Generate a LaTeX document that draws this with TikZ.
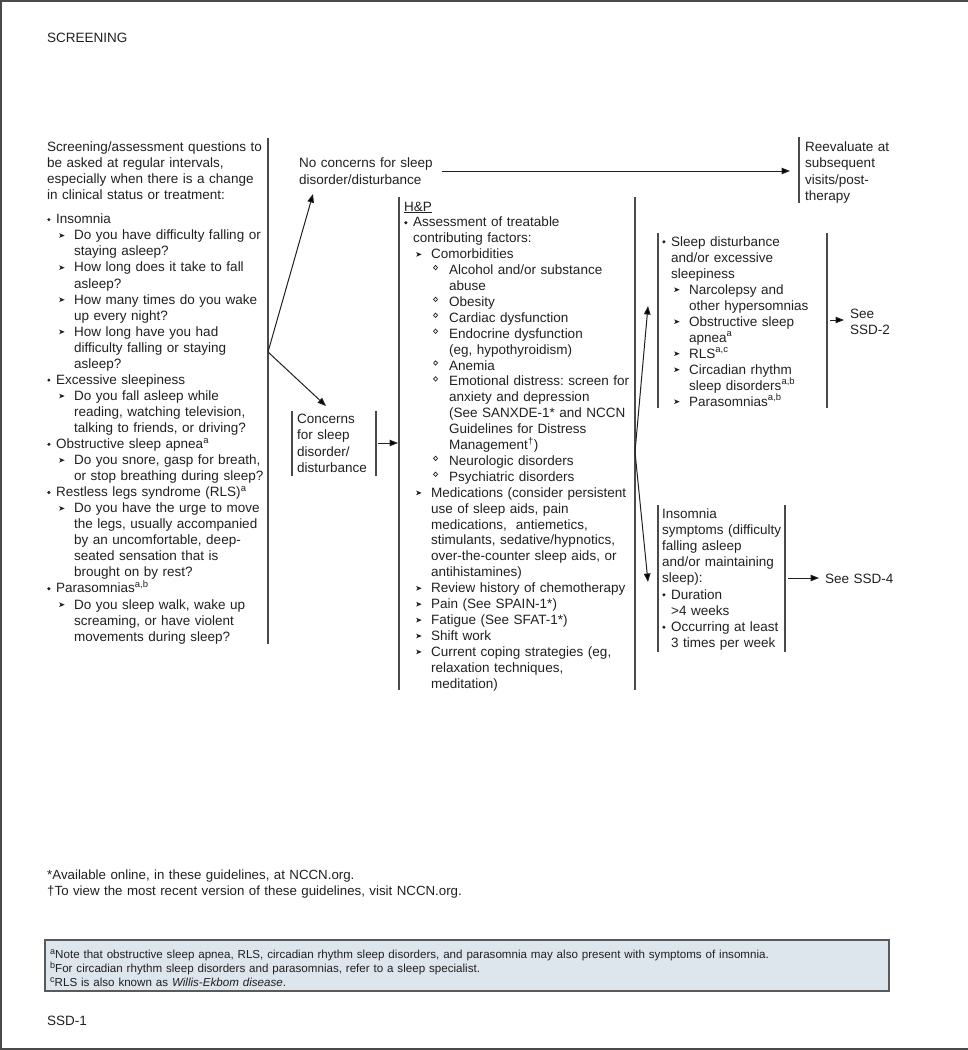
\documentclass[tikz,border=0pt]{standalone}
\usepackage{fontspec}
\setmainfont{Liberation Sans}
\usetikzlibrary{arrows.meta}
\definecolor{ink}{HTML}{231F20}
\definecolor{rulec}{HTML}{4A4A4A}
\definecolor{notefill}{HTML}{DCE6EC}
\definecolor{noteedge}{HTML}{5A5A5A}
\frenchspacing

\newcommand\bulmark{\tikz[baseline=0pt,x=1pt,y=1pt]\fill[ink] (1.7,4.2) circle (1.7);}
\newcommand\arrmark{\tikz[baseline=0pt,x=1pt,y=1pt]\fill[ink] (0,2)--(5.5,4.3)--(0,6.6)--(1.3,4.3)--cycle;}
\newcommand\diamark{\tikz[baseline=0pt,x=1pt,y=1pt]\draw[ink,line width=0.7pt] (0,7)--(2,9.2)--(4,7)--(2,4.8)--cycle;}
\newcommand\Lone[1]{\makebox[9pt][l]{\bulmark}#1}
\newcommand\Lonec[1]{\hspace*{9pt}#1}
\newcommand\Ltwo[1]{\hspace*{12pt}\makebox[15pt][l]{\arrmark}#1}
\newcommand\Ltwoc[1]{\hspace*{27pt}#1}
\newcommand\Lthree[1]{\hspace*{29pt}\makebox[16pt][l]{\diamark}#1}
\newcommand\Lthreec[1]{\hspace*{45pt}#1}
\newcommand\notesup[1]{\raisebox{3.2pt}{\fontsize{9}{9}\selectfont #1}}

\begin{document}
\begin{tikzpicture}[x=1pt,y=-1pt,
  txt/.style={anchor=base west, inner sep=0pt, text width=#1, align=left,
    font=\fontsize{13.5}{16.05}\selectfont, text=ink},
  vline/.style={draw=rulec, line width=1.1pt},
  arr/.style={draw=ink, line width=1pt, -{Triangle[length=8.5pt,width=6.5pt]}}]
\useasboundingbox (0,0) rectangle (968,1050);
% frame
\draw[rulec, line width=2pt] (968,1) -- (1,1) -- (1,1049) -- (968,1049);

\node[txt=200pt] (title) at (47,42) {SCREENING};

% left column
\node[txt=330pt] (lc) at (47,151) {Screening/assessment questions to\\
be asked at regular intervals,\\
especially when there is a change\\
in clinical status or treatment:\\[8.6pt]
\Lone{Insomnia}\\
\Ltwo{Do you have difficulty falling or}\\
\Ltwoc{staying asleep?}\\
\Ltwo{How long does it take to fall}\\
\Ltwoc{asleep?}\\
\Ltwo{How many times do you wake}\\
\Ltwoc{up every night?}\\
\Ltwo{How long have you had}\\
\Ltwoc{difficulty falling or staying}\\
\Ltwoc{asleep?}\\
\Lone{Excessive sleepiness}\\
\Ltwo{Do you fall asleep while}\\
\Ltwoc{reading, watching television,}\\
\Ltwoc{talking to friends, or driving?}\\
\Lone{Obstructive sleep apnea\textsuperscript{a}}\\
\Ltwo{Do you snore, gasp for breath,}\\
\Ltwoc{or stop breathing during sleep?}\\
\Lone{Restless legs syndrome (RLS)\textsuperscript{a}}\\
\Ltwo{Do you have the urge to move}\\
\Ltwoc{the legs, usually accompanied}\\
\Ltwoc{by an uncomfortable, deep-}\\
\Ltwoc{seated sensation that is}\\
\Ltwoc{brought on by rest?}\\
\Lone{Parasomnias\textsuperscript{a,b}}\\
\Ltwo{Do you sleep walk, wake up}\\
\Ltwoc{screaming, or have violent}\\
\Ltwoc{movements during sleep?}};
\draw[vline] (268,138) -- (268,644);

% no concerns
\node[txt=200pt, font=\fontsize{13.5}{17}\selectfont] (nc) at (299,167) {No concerns for sleep\\ disorder/disturbance};

% concerns
\node[txt=120pt, font=\fontsize{13.5}{16.6}\selectfont] (cc) at (297,423) {Concerns\\ for sleep\\ disorder/\\ disturbance};
\draw[vline] (292,411) -- (292,476);
\draw[vline] (376,411) -- (376,476);

% H&P
\node[txt=300pt, font=\fontsize{13.5}{15.9}\selectfont] (hp) at (404,211) {\underline{H\&P}\\
\Lone{Assessment of treatable}\\
\Lonec{contributing factors:}\\
\Ltwo{Comorbidities}\\
\Lthree{Alcohol and/or substance}\\
\Lthreec{abuse}\\
\Lthree{Obesity}\\
\Lthree{Cardiac dysfunction}\\
\Lthree{Endocrine dysfunction}\\
\Lthreec{(eg, hypothyroidism)}\\
\Lthree{Anemia}\\
\Lthree{Emotional distress: screen for}\\
\Lthreec{anxiety and depression}\\
\Lthreec{(See SANXDE-1* and NCCN}\\
\Lthreec{Guidelines for Distress}\\
\Lthreec{Management\textsuperscript{†})}\\
\Lthree{Neurologic disorders}\\
\Lthree{Psychiatric disorders}\\
\Ltwo{Medications (consider persistent}\\
\Ltwoc{use of sleep aids, pain}\\
\Ltwoc{medications,\ \ antiemetics,}\\
\Ltwoc{stimulants, sedative/hypnotics,}\\
\Ltwoc{over-the-counter sleep aids, or}\\
\Ltwoc{antihistamines)}\\
\Ltwo{Review history of chemotherapy}\\
\Ltwo{Pain (See SPAIN-1*)}\\
\Ltwo{Fatigue (See SFAT-1*)}\\
\Ltwo{Shift work}\\
\Ltwo{Current coping strategies (eg,}\\
\Ltwoc{relaxation techniques,}\\
\Ltwoc{meditation)}};
\draw[vline] (399,197) -- (399,690);
\draw[vline] (635,197) -- (635,690);

% reevaluate
\node[txt=150pt, font=\fontsize{13.5}{16.5}\selectfont] (re) at (805,151) {Reevaluate at\\ subsequent\\ visits/post-\\ therapy};
\draw[vline] (799,137) -- (799,203);

% sleep disturbance
\node[txt=200pt, font=\fontsize{13.5}{16}\selectfont] (sd) at (662,246) {\Lone{Sleep disturbance}\\
\Lonec{and/or excessive}\\
\Lonec{sleepiness}\\
\Ltwo{Narcolepsy and}\\
\Ltwoc{other hypersomnias}\\
\Ltwo{Obstructive sleep}\\
\Ltwoc{apnea\textsuperscript{a}}\\
\Ltwo{RLS\textsuperscript{a,c}}\\
\Ltwo{Circadian rhythm}\\
\Ltwoc{sleep disorders\textsuperscript{a,b}}\\
\Ltwo{Parasomnias\textsuperscript{a,b}}};
\draw[vline] (658,233) -- (658,408);
\draw[vline] (827,233) -- (827,408);
\node[txt=100pt, font=\fontsize{13.5}{16}\selectfont] (s2) at (850,318) {See\\ SSD-2};

% insomnia symptoms
\node[txt=200pt, font=\fontsize{13.5}{16.2}\selectfont] (is) at (662,518) {Insomnia\\
symptoms (difficulty\\
falling asleep\\
and/or maintaining\\
sleep):\\
\Lone{Duration}\\
\Lonec{>4 weeks}\\
\Lone{Occurring at least}\\
\Lonec{3 times per week}};
\draw[vline] (658,505) -- (658,652);
\draw[vline] (785,505) -- (785,652);
\node[txt=120pt] (s4) at (825,583) {See SSD-4};

% connectors
\coordinate (b1) at (268,352);
\coordinate (ncTip) at (313,194);
\coordinate (ccTip) at (326,406);
\coordinate (ncOut) at (442,171);
\coordinate (reIn) at (790,171);
\coordinate (ccOut) at (378,443);
\coordinate (hpIn) at (398,443);
\coordinate (b2) at (635,452);
\coordinate (sdTip) at (648,306);
\coordinate (isTip) at (648,582);
\coordinate (sdOut) at (830,320);
\coordinate (s2In) at (844,320);
\coordinate (isOut) at (788,578);
\coordinate (s4In) at (819,578);
\draw[arr] (b1) -- (ncTip);
\draw[arr] (b1) -- (ccTip);
\draw[arr] (ncOut) -- (reIn);
\draw[arr] (ccOut) -- (hpIn);
\draw[arr] (b2) -- (sdTip);
\draw[arr] (b2) -- (isTip);
\draw[arr] (sdOut) -- (s2In);
\draw[arr] (isOut) -- (s4In);

% footnotes
\node[txt=600pt, font=\fontsize{13.3}{16.5}\selectfont] (fn) at (47,879) {*Available online, in these guidelines, at NCCN.org.\\
†To view the most recent version of these guidelines, visit NCCN.org.};

\draw[noteedge, line width=1.1pt, fill=notefill] (45,940) rectangle (889,991);
\node[txt=835pt, font=\fontsize{11.6}{14}\selectfont] (notes) at (50,958) {\notesup{a}Note that obstructive sleep apnea, RLS, circadian rhythm sleep disorders, and parasomnia may also present with symptoms of insomnia.\\
\notesup{b}For circadian rhythm sleep disorders and parasomnias, refer to a sleep specialist.\\
\notesup{c}RLS is also known as \textit{Willis-Ekbom disease}.};

\node[txt=100pt] (page) at (47,1025) {SSD-1};
\end{tikzpicture}
\end{document}
